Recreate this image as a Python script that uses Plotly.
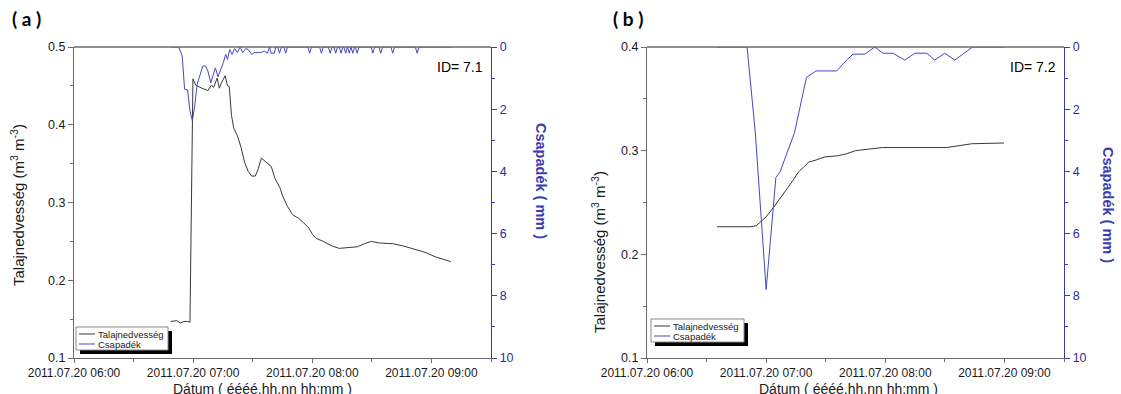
import pandas as pd
import plotly.graph_objects as go

W, H = 1121, 394
BASE = pd.Timestamp("2011-07-20 06:00")

# ---------------- data (minutes after 06:00) ----------------
a_soil_min = [48.7, 51.8, 53.6, 55.4, 57.2, 58.4, 59.9, 61.3, 64.4, 67.4, 69.2, 70.3, 72.1, 73.2,
              74.3, 76.1, 77.3, 78.2, 79.3, 80.5, 82.3, 84.1, 85.9, 87.7, 89.5, 91.3, 92.6, 94.4,
              96.7, 99.4, 101.2, 103.9, 104.8, 107.5, 110.2, 112.9, 115.6, 118.3, 120.1, 121.9,
              125.5, 130.0, 133.6, 138.1, 142.6, 146.2, 149.8, 153.4, 160.6, 166.0, 171.3, 176.7,
              182.1, 189.7]
a_soil_val = [0.147, 0.148, 0.145, 0.147, 0.147, 0.146, 0.459, 0.451, 0.447, 0.444, 0.451, 0.448,
              0.460, 0.447, 0.454, 0.463, 0.450, 0.449, 0.412, 0.395, 0.386, 0.371, 0.352, 0.340,
              0.334, 0.334, 0.342, 0.357, 0.352, 0.346, 0.331, 0.318, 0.310, 0.295, 0.284, 0.280,
              0.274, 0.267, 0.259, 0.254, 0.250, 0.244, 0.241, 0.242, 0.243, 0.247, 0.250, 0.248,
              0.247, 0.244, 0.240, 0.236, 0.230, 0.224]

a_rain_min = [48.7, 52.7, 54.5, 55.7, 57.2, 58.4, 59.6, 60.8, 62.0, 63.5, 64.9, 66.2, 67.4, 68.9,
              70.1, 71.2, 72.5, 73.7, 75.2, 76.4, 77.3, 78.4, 79.6, 80.9, 82.3, 83.6, 85.0, 86.5,
              87.7, 89.5, 90.8, 92.2, 94.0, 95.8, 97.3, 98.5, 99.2, 100.9, 101.6,
              102.6, 103.5, 104.4, 105.7, 106.6, 107.5,
              117.8, 118.7, 119.6, 123.7, 124.6, 125.5, 128.1, 129.0, 129.9,
              130.9, 131.8, 132.7, 133.6, 134.5, 135.4, 135.9, 136.8, 137.7, 138.6, 139.5, 140.4,
              141.3, 141.7, 142.6, 143.5, 149.6, 150.5, 151.4, 153.6, 154.5, 155.4,
              159.6, 160.5, 161.4, 171.9, 172.8, 173.7, 190.0]
a_rain_val = [0.0, 0.0, 0.29, 1.36, 1.38, 2.05, 2.37, 1.90, 1.20, 0.88, 0.61, 0.61, 0.77, 1.15,
              0.88, 0.67, 0.96, 0.77, 0.50, 0.24, 0.40, 0.08, 0.24, 0.05, 0.18, 0.0, 0.18, 0.05,
              0.08, 0.24, 0.18, 0.18, 0.18, 0.13, 0.20, 0.0, 0.20, 0.20, 0.0,
              0.0, 0.2, 0.0, 0.0, 0.2, 0.0,
              0.0, 0.2, 0.0, 0.0, 0.2, 0.0, 0.0, 0.2, 0.0,
              0.0, 0.2, 0.0, 0.0, 0.2, 0.0, 0.0, 0.2, 0.0, 0.2, 0.0, 0.2,
              0.0, 0.0, 0.2, 0.0, 0.0, 0.2, 0.0, 0.0, 0.2, 0.0,
              0.0, 0.2, 0.0, 0.0, 0.2, 0.0, 0.0]

b_soil_min = [35.3, 51.8, 55.0, 59.9, 64.4, 67.1, 69.8, 73.4, 76.1, 78.8, 81.5, 85.1, 89.6, 95.9,
              100.5, 105.0, 111.3, 118.5, 136.5, 150.9, 163.6, 179.8]
b_soil_val = [0.2266, 0.2266, 0.2276, 0.236, 0.247, 0.254, 0.262, 0.271, 0.279, 0.284, 0.289,
              0.291, 0.294, 0.295, 0.297, 0.300, 0.3016, 0.303, 0.303, 0.303, 0.3067, 0.3074]

b_rain_min = [35.3, 50.4, 54.6, 60.0, 64.9, 67.1, 74.3, 80.3, 85.1, 95.5, 100.6, 103.7, 109.7,
              114.7, 118.8, 123.8, 129.8, 134.9, 140.9, 144.9, 149.9, 155.0, 164.0, 180.0]
b_rain_val = [0.0, 0.0, 2.8, 7.8, 4.2, 4.0, 2.75, 0.98, 0.77, 0.77, 0.42, 0.23, 0.23,
              0.0, 0.2, 0.2, 0.42, 0.2, 0.2, 0.42, 0.2, 0.42, 0.0, 0.0]

panel_titles = ["( a )", "( b )"]
id_labels = ["ID= 7.1", "ID= 7.2"]
series_names = ["Talajnedvesség", "Csapadék"]
y_left_title = "Talajnedvesség (m<sup>3</sup> m<sup>-3</sup>)"
y_right_title = "Csapadék ( mm )"
x_title = "Dátum ( éééé.hh.nn hh:mm )"


def t(mins):
    return [BASE + pd.Timedelta(minutes=m) for m in mins]


# ---------------- styling ----------------
FONT = "Liberation Sans, Arial, sans-serif"
GRAY = "#6a6a6a"
BLACK_LINE = "#383838"
BLUE_LINE = "#4646c4"
BLUE_AXIS = "#3b3bb0"
BLUE_TEXT = "#2d2d9a"


def px(x):
    return x / W


def py(y):
    return 1 - y / H


Y_TOP, Y_BOT = 47, 358
A_L, A_R = 74, 491
B_L, B_R = 647, 1064
ydom = [py(Y_BOT), py(Y_TOP)]
xrange_ = [BASE, BASE + pd.Timedelta(minutes=210)]

fig = go.Figure()
fig.add_trace(go.Scatter(x=t(a_soil_min), y=a_soil_val, mode="lines", name=series_names[0],
                         line=dict(color=BLACK_LINE, width=1), xaxis="x", yaxis="y"))
fig.add_trace(go.Scatter(x=t(a_rain_min), y=a_rain_val, mode="lines", name=series_names[1],
                         line=dict(color=BLUE_LINE, width=1), xaxis="x", yaxis="y2"))
fig.add_trace(go.Scatter(x=t(b_soil_min), y=b_soil_val, mode="lines", name=series_names[0],
                         line=dict(color=BLACK_LINE, width=1), xaxis="x2", yaxis="y3"))
fig.add_trace(go.Scatter(x=t(b_rain_min), y=b_rain_val, mode="lines", name=series_names[1],
                         line=dict(color=BLUE_LINE, width=1), xaxis="x2", yaxis="y4"))

tickfont = dict(family=FONT, size=12, color="#1a1a1a")


def xaxis_bottom(dom, anchor):
    return dict(domain=dom, anchor=anchor, type="date", range=xrange_,
                tick0=BASE, dtick=3600000, tickformat="%Y.%m.%d %H:%M",
                showline=True, linecolor=GRAY, linewidth=1, mirror=False,
                ticks="outside", ticklen=4, tickcolor=GRAY, tickwidth=1,
                minor=dict(dtick=1800000, ticks="outside", ticklen=3, tickcolor=GRAY),
                showgrid=False, zeroline=False, tickfont=tickfont, automargin=False)


def xaxis_top(over, anchor):
    return dict(overlaying=over, anchor=anchor, side="top", type="date", range=xrange_,
                tick0=BASE, dtick=3600000, showticklabels=False,
                showline=False,
                ticks="inside", ticklen=5, tickcolor=GRAY,
                minor=dict(dtick=1800000, ticks="inside", ticklen=4, tickcolor=GRAY),
                showgrid=False, zeroline=False, automargin=False)


def yaxis_left(anchor, rng):
    return dict(domain=ydom, anchor=anchor, range=rng, dtick=0.1, tick0=0.1,
                showline=True, linecolor=GRAY, linewidth=1,
                ticks="outside", ticklen=5, tickcolor=GRAY,
                minor=dict(dtick=0.05, ticks="outside", ticklen=3, tickcolor=GRAY),
                showgrid=False, zeroline=False, tickfont=dict(family=FONT, size=12.5,
                                                              color="#1a1a1a"),
                automargin=False)


def yaxis_right(over, anchor):
    return dict(overlaying=over, anchor=anchor, side="right", range=[10, 0], dtick=2, tick0=0,
                showline=True, linecolor=BLUE_AXIS, linewidth=1.3,
                ticks="outside", ticklen=5, tickcolor=BLUE_AXIS,
                minor=dict(dtick=1, ticks="outside", ticklen=3, tickcolor=BLUE_AXIS),
                showgrid=False, zeroline=False,
                tickfont=dict(family=FONT, size=12.5, color=BLUE_TEXT), automargin=False)


fig.update_layout(
    width=W, height=H, margin=dict(l=0, r=0, t=0, b=0),
    paper_bgcolor="white", plot_bgcolor="white", showlegend=False,
    xaxis=xaxis_bottom([px(A_L), px(A_R)], "y"),
    xaxis2=xaxis_bottom([px(B_L), px(B_R)], "y3"),
    xaxis3=xaxis_top("x", "y"),
    xaxis4=xaxis_top("x2", "y3"),
    yaxis=yaxis_left("x", [0.1, 0.5]),
    yaxis2=yaxis_right("y", "x"),
    yaxis3=yaxis_left("x2", [0.1, 0.4]),
    yaxis4=yaxis_right("y3", "x2"),
)

ann = []
shapes = []

panels = [
    dict(L=A_L, R=A_R, title_x=10, ylt_x=18, ylt_y=205, yrt_x=541, yrt_y=181, xt_x=262,
         leg=(76, 327, 168, 350)),
    dict(L=B_L, R=B_R, title_x=611, ylt_x=598, ylt_y=252, yrt_x=1108, yrt_y=205, xt_x=848,
         leg=(651, 319, 744, 342)),
]

for i, p in enumerate(panels):
    ann.append(dict(text="<b>" + panel_titles[i] + "</b>", x=px(p["title_x"]), y=py(18),
                    xref="paper", yref="paper", xanchor="left", yanchor="middle",
                    showarrow=False, font=dict(family="Lato, Noto Sans, sans-serif", size=19,
                                               color="black")))
    ann.append(dict(text=id_labels[i], x=px(p["R"] - 6), y=py(67), xref="paper", yref="paper",
                    xanchor="right", yanchor="middle", showarrow=False,
                    font=dict(family=FONT, size=14, color="black")))
    ann.append(dict(text=y_left_title, x=px(p["ylt_x"]), y=py(p["ylt_y"]), xref="paper",
                    yref="paper", xanchor="center", yanchor="middle", textangle=-90,
                    showarrow=False, font=dict(family=FONT, size=15, color="#1a1a1a")))
    ann.append(dict(text="<b>" + y_right_title + "</b>", x=px(p["yrt_x"]), y=py(p["yrt_y"]),
                    xref="paper", yref="paper", xanchor="center", yanchor="middle", textangle=90,
                    showarrow=False, font=dict(family=FONT, size=14.5, color=BLUE_AXIS)))
    ann.append(dict(text=x_title, x=px(p["xt_x"]), y=py(389), xref="paper", yref="paper",
                    xanchor="center", yanchor="middle", showarrow=False,
                    font=dict(family=FONT, size=14, color="#1a1a1a")))
    # top frame line drawn over the traces (hides rainfall at 0 mm)
    shapes.append(dict(type="line", xref="paper", yref="paper", x0=px(p["L"]), x1=px(p["R"]),
                       y0=py(Y_TOP), y1=py(Y_TOP), line=dict(color=GRAY, width=1.6),
                       layer="above"))
    # legend box with shadow
    x0, y0, x1, y1 = p["leg"]
    shapes.append(dict(type="rect", xref="paper", yref="paper", x0=px(x0 + 4), x1=px(x1 + 4),
                       y0=py(y1 + 4), y1=py(y0 + 4), fillcolor="black", line=dict(width=0),
                       layer="above"))
    shapes.append(dict(type="rect", xref="paper", yref="paper", x0=px(x0), x1=px(x1),
                       y0=py(y1), y1=py(y0), fillcolor="white",
                       line=dict(color="#888888", width=1), layer="above"))
    rows = [y0 + 7, y0 + 17]
    cols = [BLACK_LINE, BLUE_LINE]
    for r, c, name in zip(rows, cols, series_names):
        shapes.append(dict(type="line", xref="paper", yref="paper", x0=px(x0 + 3), x1=px(x0 + 19),
                           y0=py(r), y1=py(r), line=dict(color=c, width=1), layer="above"))
        ann.append(dict(text=name, x=px(x0 + 20), y=py(r), xref="paper", yref="paper",
                        xanchor="left", yanchor="middle", showarrow=False,
                        font=dict(family=FONT, size=9.5, color="#1a1a1a")))

fig.update_layout(annotations=ann, shapes=shapes)
fig.write_html("out.html")
